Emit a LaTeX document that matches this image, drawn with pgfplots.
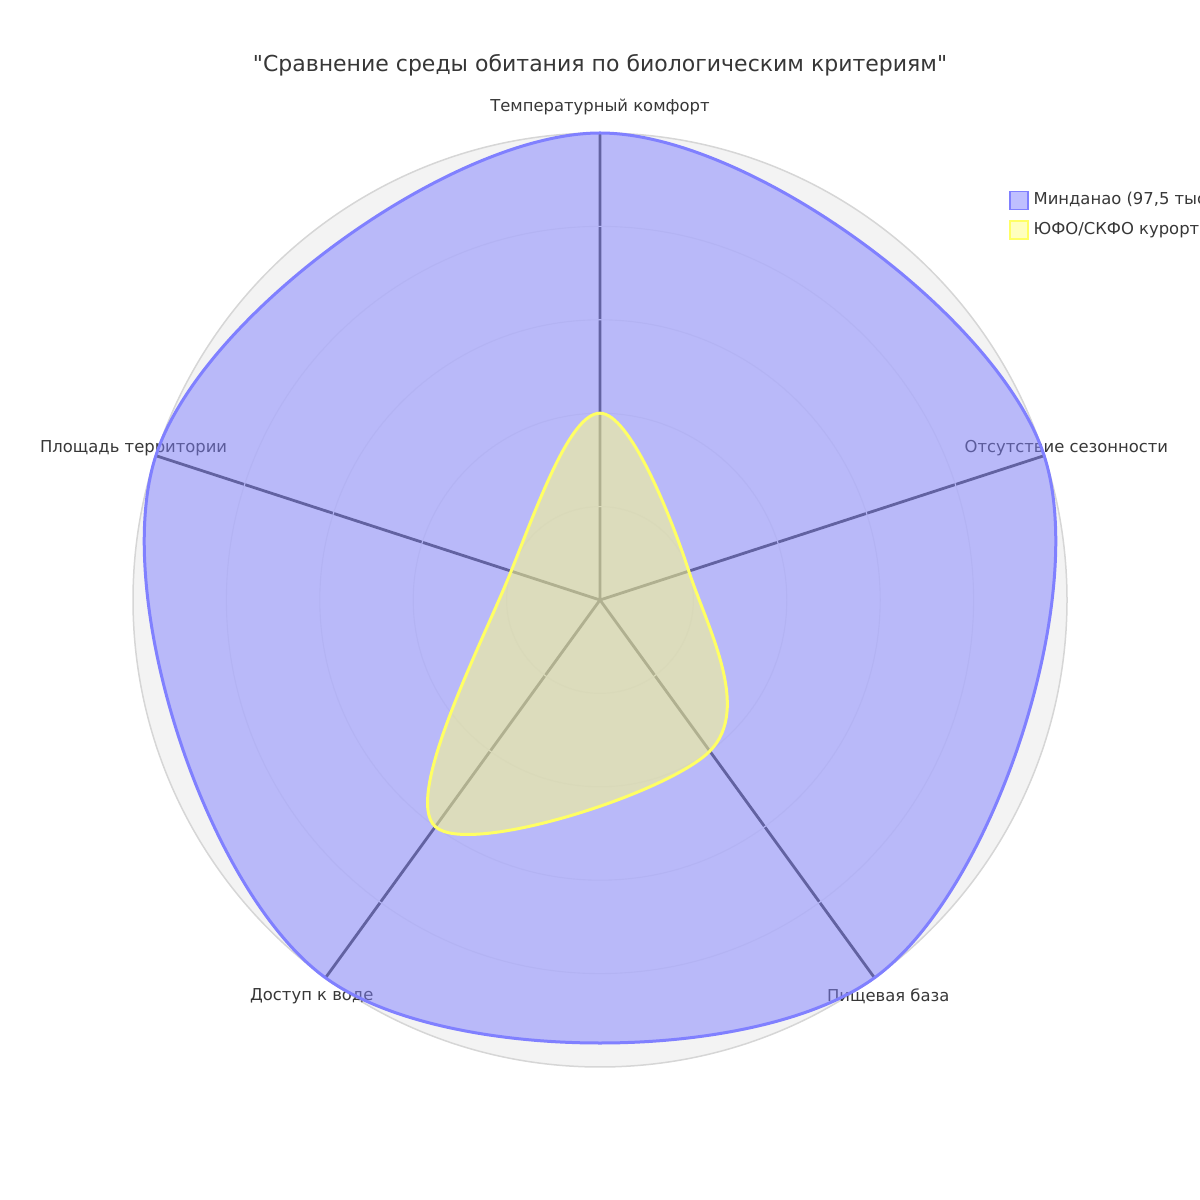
\documentclass[border=0pt]{standalone}
\usepackage{pgfplots}
\pgfplotsset{compat=1.18}
\usepgfplotslibrary{polar}
\usepackage{pgfplotstable}
\usepackage{fontspec}
\setmainfont{DejaVu Sans}
\newfontfamily\plainfont{DejaVu Sans}
\definecolor{txt}{RGB}{55,55,55}
\definecolor{diskbg}{RGB}{243,243,243}
\definecolor{gridc}{RGB}{232,232,232}
\definecolor{rim}{RGB}{214,214,214}
\definecolor{spoke}{RGB}{68,68,68}
\definecolor{blueline}{RGB}{128,128,255}
\definecolor{yelfill}{RGB}{255,255,128}
\definecolor{yelline}{RGB}{255,255,100}

\pgfplotstableread{
angle r
90 10
18 10
306 10
234 10
162 10
}\mindanao
\pgfplotstableread{
angle r
90 4
18 2
306 4
234 6
162 2
}\yufo

\begin{document}
\begin{tikzpicture}
\node[font=\plainfont\fontsize{11}{13}\selectfont, text=txt] at (300pt,567.5pt) {"Сравнение среды обитания по биологическим критериям"};
\begin{polaraxis}[
  set layers,
  at={(300pt,300pt)}, anchor=center,
  scale only axis, width=467pt, height=467pt,
  clip=false,
  ymin=0, ymax=10,
  xtick={18,90,162,234,306}, xticklabels={},
  ytick={2,4,6,8}, yticklabels={},
  xmajorgrids, ymajorgrids,
  x grid style={spoke, line width=1.4pt},
  y grid style={gridc, line width=0.55pt},
  major tick length=0pt,
  axis line style={rim, line width=0.75pt},
  y axis line style={draw=none},
  axis background/.style={fill=diskbg},
  legend style={at={(axis description cs:0.938,0.9384)}, anchor=north west, draw=none, fill=none, inner sep=0pt, outer sep=0pt, font=\fontsize{8.2}{9.8}\selectfont, text=txt, row sep=5pt, column sep=1.5pt, nodes={inner sep=1pt}},
  legend cell align=left,
  legend image code/.code={\draw[#1, line width=0.75pt] (0pt,-4.5pt) rectangle (9pt,4.5pt);},
  tick label style={font=\fontsize{8.2}{9.8}\selectfont},
]
\node[font=\fontsize{8.2}{9.8}\selectfont, text=txt] at (axis cs:90,10.56) {Температурный комфорт};
\node[font=\fontsize{8.2}{9.8}\selectfont, text=txt] at (axis cs:18,10.5) {Отсутствие сезонности};
\node[font=\fontsize{8.2}{9.8}\selectfont, text=txt] at (axis cs:306,10.5) {Пищевая база};
\node[font=\fontsize{8.2}{9.8}\selectfont, text=txt] at (axis cs:234,10.5) {Доступ к воде};
\node[font=\fontsize{8.2}{9.8}\selectfont, text=txt] at (axis cs:162,10.5) {Площадь территории};
\addplot[draw=blueline, line width=1.5pt, fill=blueline, fill opacity=0.5, smooth cycle, tension=0.6] table[x=angle,y=r]{\mindanao};
\addlegendentry{Минданао (97,5 тыс. км²)}
\addplot[draw=yelline, line width=1.5pt, fill=yelfill, fill opacity=0.5, smooth cycle, tension=0.6] table[x=angle,y=r]{\yufo};
\addlegendentry{ЮФО/СКФО курорты}
\end{polaraxis}
\pgfresetboundingbox
\useasboundingbox (0,0) rectangle (600pt,600pt);
\end{tikzpicture}
\end{document}
